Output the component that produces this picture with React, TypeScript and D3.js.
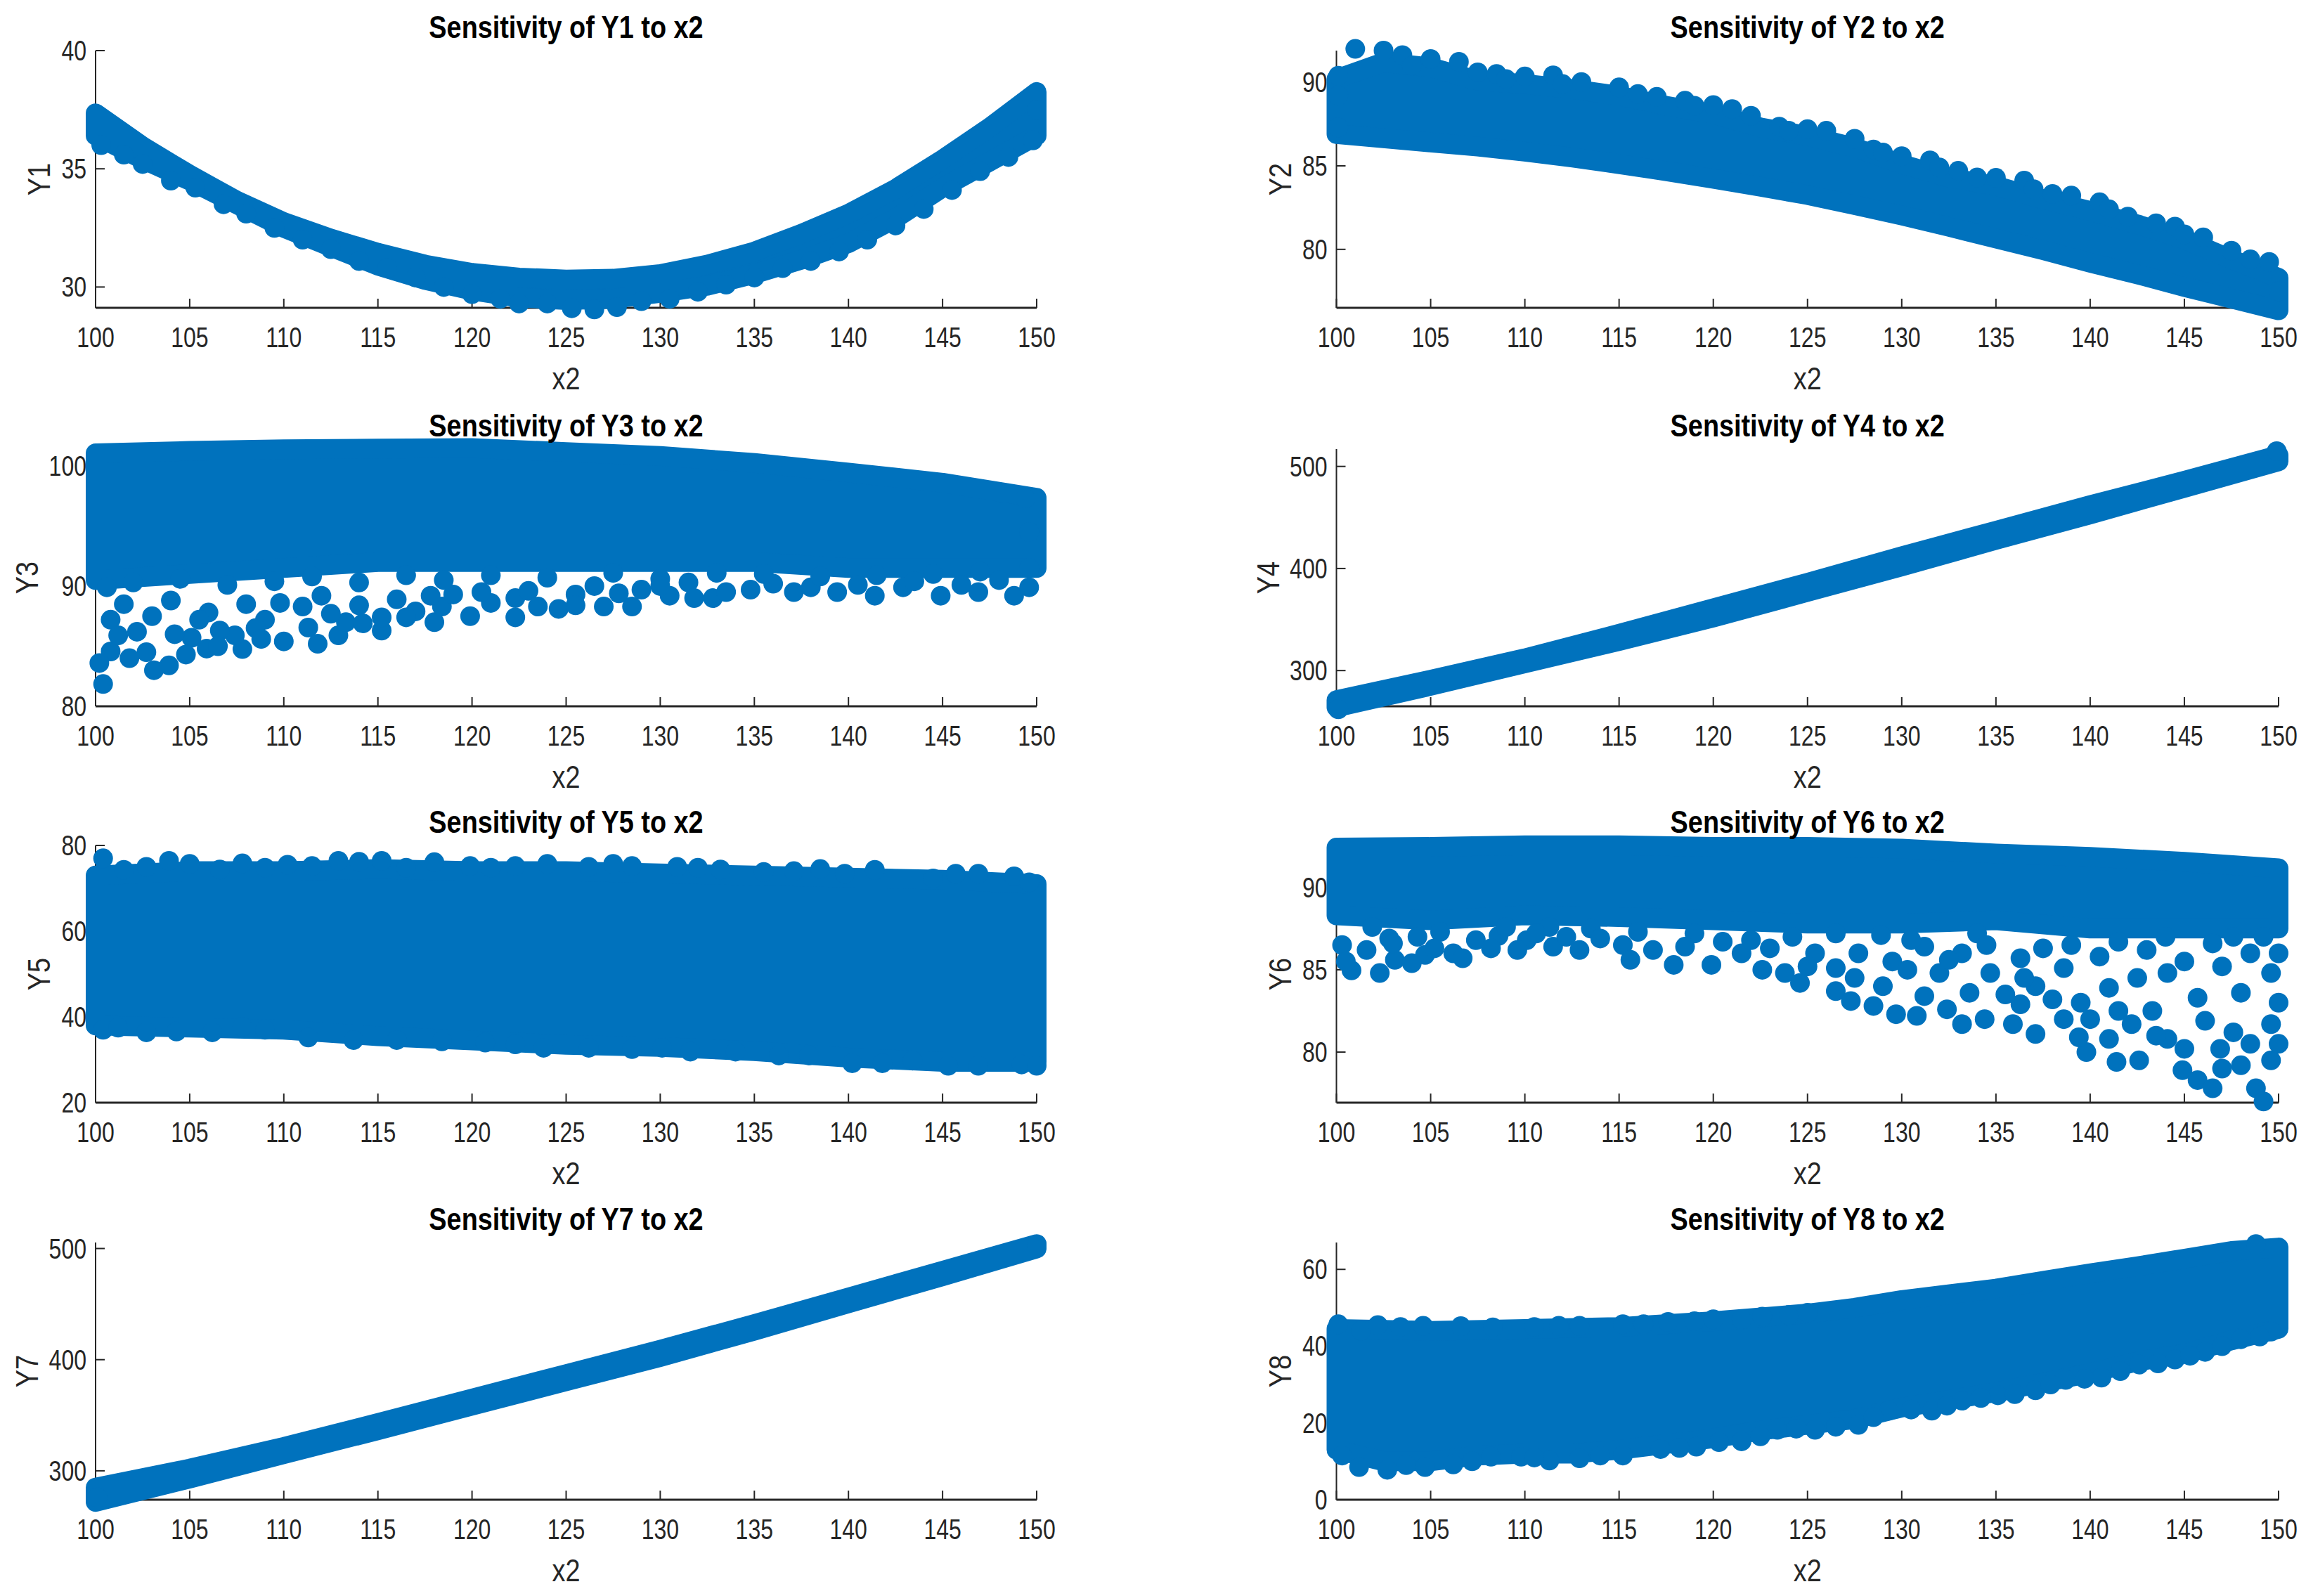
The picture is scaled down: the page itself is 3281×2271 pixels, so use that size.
import React from 'react';
import * as d3 from 'd3';

type Pt = [number, number];

// ---------- shared axis data ----------
const X_DOMAIN: [number, number] = [100, 150];
const X_TICKS = [100, 105, 110, 115, 120, 125, 130, 135, 140, 145, 150];
const X_LABEL = 'x2';
const PANEL_TITLES = [
  'Sensitivity of Y1 to x2', 'Sensitivity of Y2 to x2',
  'Sensitivity of Y3 to x2', 'Sensitivity of Y4 to x2',
  'Sensitivity of Y5 to x2', 'Sensitivity of Y6 to x2',
  'Sensitivity of Y7 to x2', 'Sensitivity of Y8 to x2',
];
const Y_LABELS = ['Y1', 'Y2', 'Y3', 'Y4', 'Y5', 'Y6', 'Y7', 'Y8'];
const Y_DOMAINS: [number, number][] = [
  [29.12, 40], [76.5, 91.9], [80, 101.4], [265, 517],
  [20, 80], [76.93, 92.55], [274, 505.4], [0, 67],
];
const Y_TICKS: number[][] = [
  [30, 35, 40], [80, 85, 90], [80, 90, 100], [300, 400, 500],
  [20, 40, 60, 80], [80, 85, 90], [300, 400, 500], [0, 20, 40, 60],
];

// ---------- Y1 ----------
const Y1_UPPER: Pt[] = [[100, 37.35], [102.5, 35.95], [105, 34.75], [107.5, 33.65], [110, 32.75], [112.5, 32.05], [115, 31.45], [117.5, 30.95], [120, 30.6], [122.5, 30.4], [125, 30.32], [127.5, 30.35], [130, 30.55], [132.5, 30.95], [135, 31.5], [137.5, 32.25], [140, 33.1], [142.5, 34.15], [145, 35.4], [147.5, 36.75], [150, 38.25]];
const Y1_LOWER: Pt[] = [[100, 36.4], [102.5, 35.4], [105, 34.5], [107.5, 33.5], [110, 32.5], [112.5, 31.7], [115, 30.9], [117.5, 30.3], [120, 29.85], [122.5, 29.55], [125, 29.45], [127.5, 29.5], [130, 29.75], [132.5, 30.05], [135, 30.55], [137.5, 31.15], [140, 31.85], [142.5, 32.9], [145, 34.2], [147.5, 35.3], [150, 36.4]];
const Y1_POINTS: Pt[] = [[100.3, 36.0], [101.5, 35.6], [102.5, 35.2], [104, 34.5], [105.3, 34.2], [106.8, 33.5], [108, 33.1], [109.5, 32.5], [111, 32.0], [112.5, 31.6], [114, 31.1], [115.5, 30.8], [117, 30.4], [118.5, 30.0], [120, 29.7], [121.5, 29.5], [122.5, 29.3], [124, 29.3], [125.3, 29.1], [126.5, 29.05], [127.7, 29.15], [129, 29.4], [130.5, 29.5], [132, 29.8], [133.5, 30.1], [135, 30.4], [136.5, 30.8], [138, 31.1], [139.5, 31.5], [141, 32.0], [142.5, 32.6], [144, 33.3], [145.5, 34.1], [147, 34.9], [148.5, 35.5], [149.8, 36.2], [150, 37.5]];

// ---------- Y2 ----------
const Y2_UPPER: Pt[] = [[100, 90.2], [102.5, 91.2], [105, 90.9], [107.5, 90.1], [110, 89.9], [112.5, 89.6], [115, 89.2], [117.5, 88.6], [120, 88.1], [122.5, 87.3], [125, 86.8], [127.5, 86.1], [130, 85.1], [132.5, 84.3], [135, 83.8], [137.5, 83.0], [140, 82.3], [142.5, 81.5], [145, 80.6], [147.5, 79.4], [150, 78.3]];
const Y2_LOWER: Pt[] = [[100, 86.9], [102.5, 86.65], [105, 86.4], [107.5, 86.15], [110, 85.85], [112.5, 85.5], [115, 85.1], [117.5, 84.68], [120, 84.22], [122.5, 83.75], [125, 83.25], [127.5, 82.65], [130, 82.03], [132.5, 81.35], [135, 80.65], [137.5, 79.95], [140, 79.2], [142.5, 78.5], [145, 77.75], [147.5, 77.05], [150, 76.35]];
const Y2_POINTS: Pt[] = [[101, 92.0], [102.5, 91.9], [103.5, 91.63], [105, 91.4], [106.5, 91.23], [107.5, 90.6], [108.5, 90.5], [110, 90.35], [111.5, 90.42], [113, 90.02], [115, 89.7], [117, 89.13], [118.5, 88.9], [120, 88.64], [121, 88.4], [122, 88.0], [123.5, 87.35], [125, 87.2], [126, 87.1], [127.5, 86.62], [128.5, 85.98], [130, 85.58], [131.5, 85.33], [133, 84.7], [135, 84.28], [136.5, 84.12], [138, 83.32], [139, 83.22], [140.5, 82.82], [142, 81.96], [143.5, 81.56], [144.5, 81.36], [146, 80.72], [147.5, 79.92], [149.5, 79.25], [100.1, 90.4], [100.1, 89.2], [100.1, 87.3], [104, 91.0], [109, 90.2], [112, 89.9], [116, 89.3], [119, 88.6], [124, 87.1], [129, 85.8], [132, 84.9], [134, 84.3], [137, 83.6], [141, 82.4], [145, 80.9], [148.5, 79.4], [150, 77.5]];

// ---------- Y3 ----------
const Y3_UPPER: Pt[] = [[100, 101.05], [105, 101.25], [110, 101.38], [115, 101.45], [120, 101.49], [125, 101.15], [130, 100.83], [135, 100.25], [140, 99.45], [145, 98.6], [150, 97.35]];
const Y3_LOWER: Pt[] = [[100, 90.5], [105, 91], [110, 91.5], [115, 92], [120, 92], [125, 92], [130, 92], [135, 92], [140, 91.5], [145, 91.5], [150, 91.5]];
const Y3_POINTS: Pt[] = [[100.4, 81.85], [100.8, 84.56], [101.2, 85.9], [100.8, 87.2], [100.6, 89.9], [103.1, 83.0], [103.9, 83.4], [102.7, 84.5], [105.1, 85.7], [105.9, 84.8], [107.8, 84.76], [107.4, 85.9], [106.6, 86.3], [110.0, 85.4], [111.3, 86.55], [112.9, 85.9], [113.3, 87.0], [115.2, 86.3], [115.2, 87.4], [118.0, 87.0], [119.9, 87.5], [118.4, 88.3], [122.3, 87.4], [122.3, 89.0], [124.6, 88.1], [127.0, 88.3], [128.5, 88.3], [130.5, 89.2], [132.8, 89.0], [134.8, 89.7], [137.1, 89.5], [139.4, 89.5], [141.4, 89.2], [142.9, 89.9], [144.9, 89.2], [146.9, 89.5], [148.8, 89.2], [149.6, 89.9], [101.5, 88.5], [103, 87.5], [104, 88.8], [106, 87.8], [108, 88.5], [109, 87.2], [111, 88.3], [112, 89.2], [114, 88.4], [116, 88.9], [117, 87.9], [119, 89.3], [121, 88.6], [123, 89.6], [125.5, 89.3], [126.5, 90.0], [129, 89.7], [131.5, 90.3], [133.5, 89.5], [136, 90.2], [138, 89.9], [140.5, 90.1], [143.5, 90.4], [146, 90.1], [148, 90.5], [149.4, 97.3], [102, 90.3], [104.5, 90.6], [107, 90.1], [109.5, 90.4], [111.5, 90.8], [114, 90.3], [116.5, 90.9], [118.5, 90.5], [121, 90.9], [124, 90.7], [127.5, 91.1], [130, 90.6], [133, 91.1], [135.5, 91.0], [138.5, 90.8], [141.5, 90.9], [144.5, 91.0], [147, 91.2], [149.6, 91.5], [149.6, 94.5], [102.2, 86.2], [104.2, 86.0], [105.5, 87.2], [108.5, 86.5], [109.8, 88.6], [112.5, 87.7], [114.2, 86.9], [116.5, 87.4], [117.8, 89.2], [120.5, 89.5], [123.5, 88.3], [125.5, 88.4], [127.8, 89.4], [130, 90.0], [131.8, 89.0], [100.2, 83.6], [101.8, 84.0], [104.8, 84.3], [106.5, 85.0], [108.8, 85.6], [111.8, 85.2]];

// ---------- Y4 ----------
const Y4_UPPER: Pt[] = [[100, 271], [105, 291], [110, 312], [115, 336], [120, 361], [125, 386], [130, 412], [135, 437], [140, 462], [145, 486], [150, 511]];
const Y4_LOWER: Pt[] = [[100, 264], [105, 285], [110, 307], [115, 329], [120, 352], [125, 377], [130, 402], [135, 428], [140, 453], [145, 479], [150, 505]];
const Y4_POINTS: Pt[] = [[100.1, 262], [149.9, 515]];

// ---------- Y5 ----------
const Y5_UPPER: Pt[] = [[100, 73], [105, 74], [110, 74], [115, 74.5], [120, 74], [125, 74], [130, 73.5], [135, 73], [140, 72.5], [145, 72], [150, 71]];
const Y5_LOWER: Pt[] = [[100, 38], [105, 37.5], [110, 37], [115, 35.5], [120, 34.5], [125, 33.5], [130, 33], [135, 32], [140, 30.5], [145, 29.5], [150, 29.5]];
const Y5_POINTS: Pt[] = [[100.4, 77.0], [102.7, 75.0], [103.9, 76.4], [106.6, 74.4], [107.8, 75.8], [110.2, 75.5], [112.9, 76.4], [115.2, 76.4], [118, 76.1], [119.9, 75.2], [122.3, 75.2], [126.2, 75.0], [128.5, 75.2], [130.9, 75.0], [133.2, 74.4], [137.1, 74.0], [139.8, 73.4], [141.4, 74.3], [145.7, 73.4], [146.9, 73.4], [148.8, 72.8], [149.6, 71.4], [101.5, 74.3], [105, 75.7], [109, 74.8], [111.5, 75.2], [114, 76.2], [116.5, 74.8], [121, 74.8], [124, 75.7], [127.5, 75.7], [132, 74.8], [135.5, 73.8], [138.5, 74.5], [144.5, 72.3], [100.4, 37.0], [101.2, 37.5], [102.7, 36.4], [104.3, 36.6], [106.2, 36.4], [107.8, 37.7], [109, 37.0], [111.3, 35.2], [113.7, 34.6], [116, 34.6], [118.4, 34.3], [120.7, 34.0], [122.3, 33.6], [123.8, 32.8], [126.2, 32.8], [128.5, 32.5], [130.1, 32.8], [131.6, 31.9], [134, 31.9], [136.3, 31.0], [137.9, 31.0], [140.2, 29.2], [141.8, 29.2], [143.4, 29.8], [145.3, 28.6], [146.9, 28.6], [149.2, 28.9], [150, 28.6]];

// ---------- Y6 ----------
const Y6_UPPER: Pt[] = [[100, 92.42], [105, 92.46], [110, 92.56], [115, 92.56], [120, 92.46], [125, 92.46], [130, 92.36], [135, 92.06], [140, 91.86], [145, 91.56], [150, 91.16]];
const Y6_LOWER: Pt[] = [[100, 88.3], [105, 88.0], [110, 88.3], [115, 88.2], [120, 88.0], [125, 87.8], [130, 87.8], [135, 88.0], [140, 87.5], [145, 87.5], [150, 87.5]];
const Y6_POINTS: Pt[] = [[100.8, 84.96], [102.3, 84.8], [101.6, 86.2], [103.1, 85.6], [104.7, 85.9], [106.2, 86.0], [104.3, 87.0], [101.9, 87.6], [107.4, 86.8], [108.6, 87.05], [110.1, 86.8], [111.5, 86.4], [112.9, 86.2], [111.3, 87.6], [115.2, 86.5], [115.6, 85.6], [117.9, 85.3], [119.9, 85.3], [121.5, 86.0], [122.6, 85.0], [123.8, 84.8], [124.6, 84.2], [125.4, 86.0], [126.5, 83.7], [127.3, 83.1], [126.5, 85.1], [127.7, 86.0], [128.5, 82.8], [129.7, 82.3], [130.8, 82.2], [131.2, 83.4], [132.4, 82.6], [133.2, 81.7], [133.6, 83.6], [134.4, 82.0], [134.7, 84.8], [135.9, 81.7], [137.1, 81.1], [136.3, 82.9], [137.1, 84.0], [138.6, 82.0], [139.8, 80.0], [139.4, 80.9], [141.0, 80.8], [141.4, 79.4], [142.6, 79.5], [142.2, 81.7], [143.3, 82.5], [144.1, 80.8], [144.9, 78.9], [145.7, 78.3], [146.5, 77.8], [146.1, 81.9], [145.7, 83.3], [146.9, 80.2], [148.0, 79.2], [147.6, 81.2], [148.0, 83.6], [148.8, 77.8], [149.2, 77.0], [149.6, 79.5], [149.6, 81.7], [149.6, 84.8], [149.2, 87.0], [147.6, 87.0], [144.1, 84.8], [141.0, 83.9], [138.6, 85.1], [136.3, 85.7], [133.2, 86.0], [131.2, 86.4], [128.9, 87.1], [124.2, 87.0], [129.5, 85.5], [132, 84.8], [135.5, 83.5], [139.5, 83.0], [140.5, 85.8], [143, 86.2], [145, 85.5], [147, 85.2], [148.5, 86.0], [142.5, 84.5], [137.5, 86.3], [134, 87.2], [130.5, 86.8], [126.5, 87.2], [122, 86.8], [119, 87.2], [116, 87.3], [113.5, 87.5], [109, 87.6], [105.5, 87.3], [102.8, 86.9], [100.3, 86.5], [100.5, 85.5], [103, 86.6], [104, 85.4], [105.2, 86.3], [106.7, 85.7], [108.2, 86.3], [109.6, 86.2], [110.6, 87.2], [112.2, 87.0], [114, 86.9], [116.8, 86.2], [118.5, 86.4], [120.5, 86.7], [123, 86.3], [125, 85.2], [127.5, 84.5], [129, 84.0], [130.3, 85.0], [132.5, 85.6], [134.5, 86.5], [136.5, 84.5], [138, 83.2], [140, 82.0], [141.5, 82.5], [143.5, 81.0], [145, 80.2], [147, 79.0], [148.5, 80.5], [150, 83.0], [150, 80.5], [150, 86.0], [144, 87.0], [141.5, 86.7], [139, 86.5], [146.5, 86.6]];

// ---------- Y7 ----------
const Y7_UPPER: Pt[] = [[100, 285], [105, 302], [110, 321.5], [115, 343], [120, 365], [125, 387], [130, 409], [135, 432], [140, 456], [145, 480], [150, 504]];
const Y7_LOWER: Pt[] = [[100, 272], [105, 293], [110, 315], [115, 336.5], [120, 358.6], [125, 380.5], [130, 402.4], [135, 426], [140, 450.7], [145, 475], [150, 500]];
const Y7_POINTS: Pt[] = [[100.1, 276], [150, 503.5]];

// ---------- Y8 ----------
const Y8_UPPER: Pt[] = [[100, 44.5], [105, 44], [110, 44.5], [115, 45], [120, 46.5], [125, 48.5], [127.5, 50], [130, 52], [132.5, 53.5], [135, 55], [137.5, 57], [140, 59], [142.5, 60.8], [145, 62.8], [147.5, 64.8], [150, 65.7]];
const Y8_LOWER: Pt[] = [[100, 13], [102.5, 10], [105, 10], [107.5, 11.5], [110, 12], [112.5, 12], [115, 13], [117.5, 14.5], [120, 16], [122.5, 18], [125, 19.5], [127.5, 21], [130, 24], [132.5, 26], [135, 28], [137.5, 30.5], [140, 33], [142.5, 36], [145, 38], [147.5, 41.5], [150, 44.5]];
const Y8_POINTS: Pt[] = [[100.1, 45.7], [101.3, 44.0], [102.2, 45.5], [103.4, 45.0], [104.6, 45.3], [106.6, 45.2], [108.3, 44.9], [110.5, 45.0], [111.8, 45.3], [112.9, 45.3], [115.2, 45.7], [116.3, 45.7], [117.6, 46.3], [119, 46.5], [120, 47.0], [121.5, 47.0], [122.6, 47.7], [124, 48.1], [125, 48.7], [148.8, 66.6], [101.2, 8.5], [102.7, 7.8], [104.7, 8.5], [106.2, 9.2], [108.2, 11.2], [109.8, 11.2], [111.3, 10.2], [112.9, 10.8], [115.2, 11.5], [117.2, 13.2], [119.1, 13.8], [121.5, 15.2], [123.4, 18.2], [125.4, 18.2], [127.7, 19.5], [129.3, 23.2], [131.6, 23.2], [133.2, 25.8], [135.1, 27.2], [137.1, 28.5], [138.7, 31.2], [140.6, 31.8], [142.6, 35.2], [144.5, 36.5], [146.1, 38.5], [148, 41.8], [149.6, 43.8], [100.3, 11.5], [103.7, 9], [107.2, 10], [110.5, 11], [114, 11.5], [118.2, 13.5], [120.3, 15], [122.5, 16.5], [124.4, 18.5], [126.5, 19], [128.5, 21.5], [130.5, 23.5], [132.4, 24.5], [134.2, 26.5], [136, 27.5], [137.9, 30], [139.7, 31.5], [141.6, 33.5], [143.6, 35.5], [145.3, 37.5], [147, 40], [149, 42.5]];

const UPPERS = [Y1_UPPER, Y2_UPPER, Y3_UPPER, Y4_UPPER, Y5_UPPER, Y6_UPPER, Y7_UPPER, Y8_UPPER];
const LOWERS = [Y1_LOWER, Y2_LOWER, Y3_LOWER, Y4_LOWER, Y5_LOWER, Y6_LOWER, Y7_LOWER, Y8_LOWER];
const POINTS = [Y1_POINTS, Y2_POINTS, Y3_POINTS, Y4_POINTS, Y5_POINTS, Y6_POINTS, Y7_POINTS, Y8_POINTS];

// ---------- layout ----------
const W = 3281;
const H = 2271;
const COLS: [number, number][] = [[136, 1475], [1901.5, 3242]];
const ROW_BOTTOMS = [438, 1005, 1569, 2134];
const AX_H = 366;
const BLUE = '#0072BD';
const AXIS = '#262626';
const R = 14;
const FONT = '"Liberation Sans", Arial, Helvetica, sans-serif';

function Panel({ idx }: { idx: number }) {
  const col = idx % 2;
  const row = Math.floor(idx / 2);
  const [x0, x1] = COLS[col];
  const bottom = ROW_BOTTOMS[row];
  const top = bottom - AX_H;
  const x = d3.scaleLinear().domain(X_DOMAIN).range([x0, x1]);
  const y = d3.scaleLinear().domain(Y_DOMAINS[idx]).range([bottom, top]);
  const poly: Pt[] = [...UPPERS[idx], ...LOWERS[idx].slice().reverse()];
  const shape = d3
    .line<Pt>()
    .x((d) => x(d[0]))
    .y((d) => y(d[1]))
    .curve(d3.curveLinearClosed)(poly) as string;
  const cx = (x0 + x1) / 2;
  const cy = (top + bottom) / 2;
  const maxDigits = Math.max(...Y_TICKS[idx].map((t) => String(t).length));
  const yLabelOffset = maxDigits >= 3 ? 82 : 65;
  return (
    <g>
      {/* axes */}
      <line x1={x0} x2={x1} y1={bottom} y2={bottom} stroke={AXIS} strokeWidth={3} />
      <line x1={x0} x2={x0} y1={top} y2={bottom} stroke={AXIS} strokeWidth={2} />
      {X_TICKS.map((t) => (
        <g key={'xt' + t}>
          <line x1={x(t)} x2={x(t)} y1={bottom} y2={bottom - 13} stroke={AXIS} strokeWidth={2} />
          <text
            transform={`translate(${x(t)},${bottom + 56}) scale(0.8,1)`}
            textAnchor="middle"
            fontSize={40}
            fill={AXIS}
            fontFamily={FONT}
          >
            {t}
          </text>
        </g>
      ))}
      {Y_TICKS[idx].map((t) => (
        <g key={'yt' + t}>
          <line x1={x0} x2={x0 + 13} y1={y(t)} y2={y(t)} stroke={AXIS} strokeWidth={2} />
          <text
            transform={`translate(${x0 - 13},${y(t) + 14}) scale(0.8,1)`}
            textAnchor="end"
            fontSize={40}
            fill={AXIS}
            fontFamily={FONT}
          >
            {t}
          </text>
        </g>
      ))}
      {/* data */}
      <path d={shape} fill={BLUE} stroke={BLUE} strokeWidth={2 * R} strokeLinejoin="round" />
      {POINTS[idx].map((p, i) => (
        <circle key={i} cx={x(p[0])} cy={y(p[1])} r={R} fill={BLUE} />
      ))}
      {/* labels */}
      <text
        transform={`translate(${cx},${top - 18}) scale(0.86,1)`}
        textAnchor="middle"
        fontSize={44}
        fontWeight="bold"
        fill="#000"
        fontFamily={FONT}
      >
        {PANEL_TITLES[idx]}
      </text>
      <text
        transform={`translate(${cx},${bottom + 116}) scale(0.86,1)`}
        textAnchor="middle"
        fontSize={44}
        fill={AXIS}
        fontFamily={FONT}
      >
        {X_LABEL}
      </text>
      <text
        transform={`translate(${x0 - yLabelOffset},${cy}) rotate(-90) scale(0.86,1)`}
        textAnchor="middle"
        fontSize={44}
        fill={AXIS}
        fontFamily={FONT}
      >
        {Y_LABELS[idx]}
      </text>
    </g>
  );
}

export default function App() {
  return (
    <svg
      width={W}
      height={H}
      viewBox={`0 0 ${W} ${H}`}
      style={{ position: 'absolute', left: 0, top: 0, background: '#fff', display: 'block' }}
    >
      <rect x={0} y={0} width={W} height={H} fill="#fff" />
      {PANEL_TITLES.map((_, i) => (
        <Panel key={i} idx={i} />
      ))}
    </svg>
  );
}
